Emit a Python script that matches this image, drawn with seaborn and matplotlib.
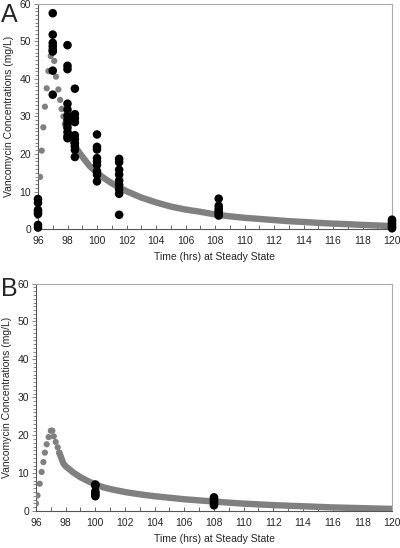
import matplotlib

matplotlib.use("Agg")

import matplotlib.pyplot as plt
import numpy as np
import pandas as pd
import seaborn as sns
from matplotlib.ticker import MultipleLocator

sns.set_style("white")
plt.rcParams["font.family"] = ["Liberation Sans", "DejaVu Sans"]

# ---- panel A: model curve, sparse infusion dots
a_dot_t = [96.0, 96.14, 96.25, 96.36, 96.47, 96.59, 96.7, 96.86, 97.0,
           97.1, 97.22, 97.38, 97.5, 97.6, 97.72, 97.83]
a_dot_c = [0.5, 13.9, 20.9, 27.1, 32.6, 37.5, 42.1, 46.1, 49.5,
           44.8, 40.6, 37.2, 34.4, 32.0, 30.0, 28.0]
# ---- panel A: model curve, dense decay band
a_band_t = [97.83, 98, 98.5, 99, 99.5, 100, 100.5, 101, 101.5, 102, 103, 104,
            105, 106, 107, 108, 109, 110, 111, 112, 113, 114, 115, 116, 117,
            118, 119, 120]
a_band_c = [28.0, 26.5, 22.0, 19.3, 16.8, 15.0, 13.5, 12.2, 11.1, 10.1, 8.4,
            7.1, 6.0, 5.2, 4.6, 3.9, 3.4, 3.0, 2.7, 2.4, 2.1, 1.9, 1.65, 1.45,
            1.3, 1.1, 0.95, 0.8]
# ---- panel A: observed concentrations
a_obs_t = ([96.0] * 7 + [97.0] * 8 + [98.0] * 12 + [98.5] * 10 + [100.0] * 9
           + [101.5] * 9 + [108.25] * 6 + [120.0] * 6)
a_obs_c = ([8.0, 7.0, 5.1, 4.5, 4.0, 1.1, 0.4]
           + [57.5, 51.8, 49.6, 48.7, 47.8, 47.3, 42.2, 35.8]
           + [49.0, 43.5, 42.6, 33.4, 31.8, 30.2, 29.0, 28.0, 27.0, 25.8, 24.7, 24.2]
           + [37.4, 30.6, 29.5, 28.5, 25.0, 23.9, 22.9, 22.0, 21.1, 19.2]
           + [25.2, 21.9, 21.2, 18.9, 18.0, 17.1, 15.4, 14.5, 12.7]
           + [18.7, 17.8, 15.8, 14.5, 12.9, 11.8, 10.6, 9.4, 3.8]
           + [8.1, 6.2, 5.4, 4.7, 4.1, 3.6]
           + [2.5, 2.0, 1.5, 1.0, 0.5, 0.2])

# ---- panel B
b_dot_t = [96.0, 96.1, 96.25, 96.38, 96.5, 96.6, 96.72, 96.85, 97.0, 97.1,
           97.2, 97.33, 97.46, 97.57]
b_dot_c = [2.0, 4.1, 7.2, 10.3, 12.9, 15.4, 17.6, 19.5, 21.2, 21.2,
           19.7, 18.2, 16.8, 15.4]
b_band_t = [97.57, 97.84, 98, 98.5, 99, 99.5, 100, 100.5, 101, 102, 103, 104,
            105, 106, 107, 108, 109, 110, 111, 112, 113, 114, 115, 116, 117,
            118, 119, 120]
b_band_c = [15.4, 12.6, 11.8, 10.2, 8.9, 7.9, 7.0, 6.3, 5.8, 5.0, 4.4, 3.9,
            3.5, 3.1, 2.8, 2.5, 2.2, 1.95, 1.75, 1.55, 1.4, 1.25, 1.1, 0.95,
            0.85, 0.75, 0.65, 0.55]
b_obs_t = [100.0] * 6 + [108.0] * 6
b_obs_c = [7.0, 6.7, 5.2, 4.7, 4.3, 3.9, 3.6, 3.2, 2.7, 2.3, 1.9, 1.5]

GREY = "#808080"
XLABEL = "Time (hrs) at Steady State"
YLABEL = "Vancomycin Concentrations (mg/L)"

fig = plt.figure(figsize=(4.0, 5.48), dpi=100)
ax_a = fig.add_axes([0.095, 0.582, 0.885, 0.411])
ax_b = fig.add_axes([0.09, 0.0675, 0.89, 0.415])


def draw(ax, dot_t, dot_c, band_t, band_c, obs_t, obs_c):
    sns.lineplot(x=band_t, y=band_c, ax=ax, color=GREY, linewidth=4.6,
                 solid_capstyle="round", zorder=2)
    sns.scatterplot(x=dot_t, y=dot_c, ax=ax, color=GREY, s=20,
                    edgecolor="none", zorder=3)
    sns.scatterplot(x=obs_t, y=obs_c, ax=ax, color="black", s=38,
                    edgecolor="none", zorder=4, clip_on=False)
    ax.set_xlim(96, 120)
    ax.set_ylim(0, 60)
    ax.xaxis.set_major_locator(MultipleLocator(2))
    ax.xaxis.set_minor_locator(MultipleLocator(1))
    ax.yaxis.set_major_locator(MultipleLocator(10))
    ax.yaxis.set_minor_locator(MultipleLocator(1))
    ax.tick_params(axis="x", which="both", direction="in", length=3,
                   width=0.6, color="#555555", labelsize=7.5, pad=5,
                   bottom=True)
    ax.tick_params(axis="y", which="both", direction="out", length=2,
                   width=0.6, color="#777777", labelsize=7.5, pad=2, left=True)
    ax.tick_params(axis="y", which="major", length=3)
    for side in ["left", "bottom"]:
        ax.spines[side].set_color("#555555")
        ax.spines[side].set_linewidth(0.8)
    for side in ["top", "right"]:
        ax.spines[side].set_color("#aaaaaa")
        ax.spines[side].set_linewidth(0.8)
    ax.set_xlabel(XLABEL, fontsize=7.5, labelpad=4)
    ax.set_ylabel(YLABEL, fontsize=7.5, labelpad=4)


draw(ax_a, a_dot_t, a_dot_c, a_band_t, a_band_c, a_obs_t, a_obs_c)
draw(ax_b, b_dot_t, b_dot_c, b_band_t, b_band_c, b_obs_t, b_obs_c)

fig.text(0.003, 0.995, "A", fontsize=18, va="top", ha="left")
fig.text(0.002, 0.494, "B", fontsize=18, va="top", ha="left")

fig.savefig("out.png", dpi=100)
